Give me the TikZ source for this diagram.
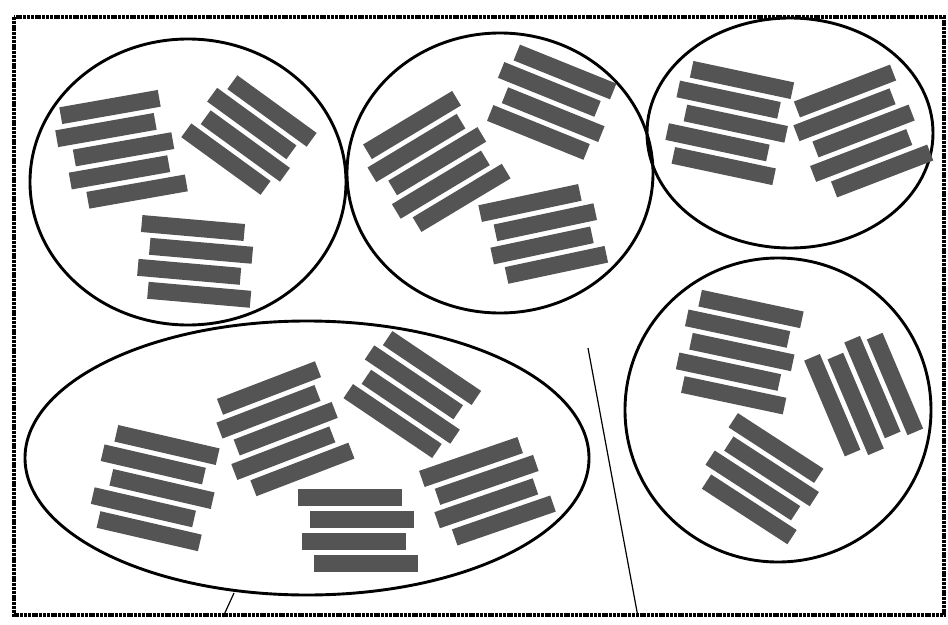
\documentclass[tikz,border=0pt]{standalone}
\usepackage{tikz}

% one stack of rods: centre of first rod, angle, rod length, shifts along the rod
\newcommand{\rodstack}[4]{%
  \begin{scope}[shift={#1},rotate=#2]
    \foreach \s [count=\i] in {#4}
      \fill[rod] ({\s-#3/2},{(\i-1)*22-8.5}) rectangle ++(#3,17);
  \end{scope}}

\begin{document}
\begin{tikzpicture}[x=1pt,y=-1pt,
    rod/.style={fill=black!67},
    grain/.style={draw=black, line width=2.9pt},
    frame/.style={draw=black, line width=4pt, dash pattern=on 3pt off 0.8pt}]
  \useasboundingbox (0,0) rectangle (948,624);
  \draw[frame] (14,17) rectangle (944,615);

  % grains
  \draw[grain] (188,182) ellipse [x radius=158, y radius=143];
  \draw[grain] (500,173) ellipse [x radius=153, y radius=140];
  \draw[grain] (790,133) ellipse [x radius=143, y radius=115];
  \draw[grain] (307,458) ellipse [x radius=282, y radius=137];
  \draw[grain] (778,410) ellipse [x radius=153, y radius=152];

  % rods in grain 1
  \rodstack{(110,107)}{10}{100}{0,-8,6,-2,12}
  \rodstack{(272,111)}{-36}{98}{0,-9,-1,-9}
  \rodstack{(193,228)}{-5}{103}{0,10,0,12}
  % grain 2
  \rodstack{(412,125)}{31}{104}{0,-8,3,-6,5}
  \rodstack{(565,72)}{-22}{104}{0,-8,5,-2}
  \rodstack{(530,203)}{12}{102}{0,11,3,13}
  % grain 3
  \rodstack{(742,80)}{-12}{103}{0,-9,3,-11,0}
  \rodstack{(845,91)}{21}{103}{0,-9,3,-8,6}
  % grain 4
  \rodstack{(167,445)}{-13}{104}{0,-9,5,-9,2}
  \rodstack{(269,388)}{21}{105}{0,-9,1,-10,2}
  \rodstack{(432,368)}{-34}{107}{0,-7,4,-3}
  \rodstack{(350,497)}{0}{104}{0,12,4,16}
  \rodstack{(471,462)}{19}{104}{0,9,1,12}
  % grain 5
  \rodstack{(751,309)}{-12}{104}{0,-9,0,-9,1}
  \rodstack{(895,384)}{-67}{104}{0,-6,3,-5}
  \rodstack{(776,448)}{-33}{102}{0,9,1,11}

  % leader lines
  \coordinate (p1) at (588,348);
  \coordinate (q1) at (638,617);
  \coordinate (p2) at (234,593);
  \coordinate (q2) at (223,617);
  \draw[line width=1.2pt] (p1) -- (q1);
  \draw[line width=1.2pt] (p2) -- (q2);
\end{tikzpicture}
\end{document}
